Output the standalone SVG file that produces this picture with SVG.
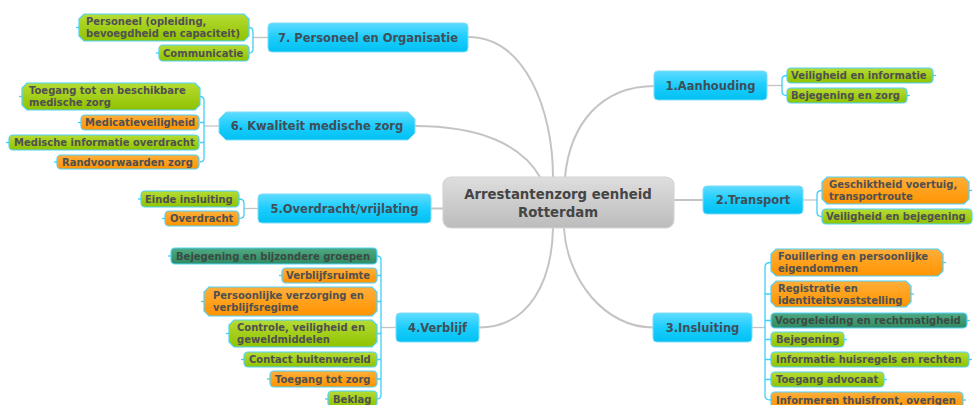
<svg xmlns="http://www.w3.org/2000/svg" width="977" height="405" viewBox="0 0 977 405">
<style>
.bg{fill:#ffffff}
.main{fill:url(#gBlue);stroke:#7fdcf7;stroke-width:1}
.center{fill:url(#gGray);stroke:#d4d4d4;stroke-width:1.2}
.green{fill:url(#gGreen);stroke:#4fd3ff;stroke-width:1.2}
.orange{fill:url(#gOrange);stroke:#4fd3ff;stroke-width:1.2}
.teal{fill:url(#gTeal);stroke:#4fd3ff;stroke-width:1.2}
.t{font-family:"DejaVu Sans",Verdana,sans-serif;font-weight:bold;font-size:10px;fill:#505050}
.tt{font-family:"DejaVu Sans",Verdana,sans-serif;font-weight:bold;font-size:10px;fill:#3b4a42}
.tm{font-family:"DejaVu Sans",Verdana,sans-serif;font-weight:bold;font-size:11.5px;fill:#3f4f58;text-anchor:middle}
.tc{font-family:"DejaVu Sans",Verdana,sans-serif;font-weight:bold;font-size:13.3px;fill:#454545;text-anchor:middle}
.conn{fill:none;stroke:#c4c4c4;stroke-width:2}
.br{fill:none;stroke:#3fcff8;stroke-width:1.3}
.stub{fill:none;stroke:#3fcff8;stroke-width:1.3}
</style>
<defs>
<linearGradient id="gBlue" x1="0" y1="0" x2="0" y2="1"><stop offset="0" stop-color="#5fdcff"/><stop offset="0.5" stop-color="#1ccdfd"/><stop offset="1" stop-color="#00c1f2"/></linearGradient>
<linearGradient id="gGray" x1="0" y1="0" x2="0" y2="1"><stop offset="0" stop-color="#dedede"/><stop offset="1" stop-color="#bcbcbc"/></linearGradient>
<linearGradient id="gGreen" x1="0" y1="0" x2="0" y2="1"><stop offset="0" stop-color="#b6dc34"/><stop offset="1" stop-color="#8fc200"/></linearGradient>
<linearGradient id="gOrange" x1="0" y1="0" x2="0" y2="1"><stop offset="0" stop-color="#ffae3a"/><stop offset="1" stop-color="#ff9400"/></linearGradient>
<linearGradient id="gTeal" x1="0" y1="0" x2="0" y2="1"><stop offset="0" stop-color="#4fa983"/><stop offset="1" stop-color="#2f8a62"/></linearGradient>
</defs>
<rect class="bg" x="0" y="0" width="977" height="405"/>

<g id="connectors">
<!-- main curves -->
<path class="conn" d="M468,37 C525,37 553,110 553,177"/>
<path class="conn" d="M415,126 C480,126 522,145 540,177"/>
<path class="conn" d="M655,86 C600,86 570,125 565,177"/>
<path class="conn" d="M479,327.5 C530,327.5 552,280 553,228"/>
<path class="conn" d="M653,327.5 C605,327.5 567,280 564,228"/>
<path class="conn" d="M431,208.5 H443"/>
<path class="conn" d="M674,200 H703"/>
<!-- parent-to-bracket -->
<path class="conn" style="stroke-width:1.3" d="M253,37.5 H268"/>
<path class="conn" style="stroke-width:1.3" d="M204,126 H219"/>
<path class="conn" style="stroke-width:1.3" d="M244,208.5 H258"/>
<path class="conn" style="stroke-width:1.3" d="M381,327.5 H396"/>
<path class="conn" style="stroke-width:1.3" d="M767,85.5 H782"/>
<path class="conn" style="stroke-width:1.3" d="M803,200 H817"/>
<path class="conn" style="stroke-width:1.3" d="M752,327.5 H765"/>
<!-- brackets left side -->
<path class="br" d="M249,27.5 Q253,27.5 253,31.5 V49 Q253,53 249,53"/>
<path class="br" d="M200,96.5 Q204,96.5 204,100.5 V158 Q204,162 200,162 M204,122.5 H200 M204,142.5 H200"/>
<path class="br" d="M239,199 Q244,199 244,203 V214.5 Q244,218.5 239,218.5"/>
<path class="br" d="M377,256 Q381,256 381,260 V395 Q381,399 377,399 M381,275.5 H377 M381,301.5 H377 M381,333.5 H377 M381,359.5 H377 M381,379 H377"/>
<!-- brackets right side -->
<path class="br" d="M787,75.5 Q782,75.5 782,79.5 V91.5 Q782,95.5 787,95.5"/>
<path class="br" d="M822,190.5 Q817,190.5 817,194.5 V212.5 Q817,216.5 822,216.5"/>
<path class="br" d="M771,262.5 Q765,262.5 765,266.5 V396 Q765,400 771,400 M765,294 H771 M765,320.5 H771 M765,339.5 H771 M765,359.5 H771 M765,379.5 H771"/>
</g>

<g id="center">
<rect class="center" x="443" y="177" width="231" height="51" rx="8"/>
<text class="tc" x="558" y="198.5">Arrestantenzorg eenheid</text>
<text class="tc" x="558" y="216.5">Rotterdam</text>
</g>

<g id="n1">
<rect class="main" x="654" y="71" width="113" height="29" rx="4"/>
<text class="tm" x="710.5" y="89.5">1.Aanhouding</text>
</g>
<g id="n2">
<rect class="main" x="703" y="186" width="100" height="28" rx="4"/>
<text class="tm" x="753" y="204">2.Transport</text>
</g>
<g id="n3">
<rect class="main" x="653" y="313" width="99" height="29" rx="4"/>
<text class="tm" x="702.5" y="331.5">3.Insluiting</text>
</g>
<g id="n4">
<rect class="main" x="396" y="313" width="83" height="29" rx="4"/>
<text class="tm" x="437.5" y="331.5">4.Verblijf</text>
</g>
<g id="n5">
<rect class="main" x="258" y="194" width="173" height="29" rx="4"/>
<text class="tm" x="344.5" y="212.5">5.Overdracht/vrijlating</text>
</g>
<g id="n6">
<path class="main" d="M226,112 H408 L415,119 V133 L408,140 H226 L219,133 V119 Z"/>
<text class="tm" x="317" y="130">6. Kwaliteit medische zorg</text>
</g>
<g id="n7">
<rect class="main" x="268" y="23" width="200" height="29" rx="4"/>
<text class="tm" x="368" y="41.5">7. Personeel en Organisatie</text>
</g>

<!-- group 7 -->
<g id="s7a">
<path class="green" d="M84,14 H244 L249,19 V36 L244,41 H84 L79,36 V19 Z"/>
<path class="stub" d="M79,27.5 h-3"/>
<text class="t" x="86" y="25">Personeel (opleiding,</text>
<text class="t" x="86" y="37">bevoegdheid en capaciteit)</text>
</g>
<g id="s7b">
<rect class="green" x="159" y="45" width="90" height="16" rx="4"/>
<path class="stub" d="M159,53 h-3"/>
<text class="t" x="163" y="56.5">Communicatie</text>
</g>

<!-- group 6 -->
<g id="s6a">
<path class="green" d="M27,83 H195 L200,88 V105 L195,110 H27 L22,105 V88 Z"/>
<path class="stub" d="M22,96.5 h-3"/>
<text class="t" x="29" y="94">Toegang tot en beschikbare</text>
<text class="t" x="29" y="106">medische zorg</text>
</g>
<g id="s6b">
<rect class="orange" x="81" y="115" width="118" height="15" rx="4"/>
<path class="stub" d="M81,122.5 h-3"/>
<text class="t" x="85" y="126">Medicatieveiligheid</text>
</g>
<g id="s6c">
<rect class="green" x="9" y="135" width="190" height="15" rx="4"/>
<path class="stub" d="M9,142.5 h-3"/>
<text class="t" x="14" y="146">Medische informatie overdracht</text>
</g>
<g id="s6d">
<rect class="orange" x="57" y="155" width="142" height="14" rx="4"/>
<path class="stub" d="M57,162 h-3"/>
<text class="t" x="62" y="165.5">Randvoorwaarden zorg</text>
</g>

<!-- group 5 -->
<g id="s5a">
<rect class="green" x="141" y="191" width="98" height="16" rx="4"/>
<path class="stub" d="M141,199 h-3"/>
<text class="t" x="145" y="202.5">Einde insluiting</text>
</g>
<g id="s5b">
<rect class="orange" x="165" y="211" width="74" height="15" rx="4"/>
<path class="stub" d="M165,218.5 h-3"/>
<text class="t" x="170" y="222">Overdracht</text>
</g>

<!-- group 4 -->
<g id="s4a">
<rect class="teal" x="171" y="248" width="206" height="16" rx="4"/>
<path class="stub" d="M171,256 h-3"/>
<text class="tt" x="176" y="259.5">Bejegening en bijzondere groepen</text>
</g>
<g id="s4b">
<rect class="orange" x="282" y="268" width="95" height="15" rx="4"/>
<path class="stub" d="M282,275.5 h-3"/>
<text class="t" x="286" y="279">Verblijfsruimte</text>
</g>
<g id="s4c">
<path class="orange" d="M209,287 H372 L377,292 V311 L372,316 H209 L204,311 V292 Z"/>
<path class="stub" d="M204,301.5 h-3"/>
<text class="t" x="213" y="299">Persoonlijke verzorging en</text>
<text class="t" x="213" y="311">verblijfsregime</text>
</g>
<g id="s4d">
<path class="green" d="M234,320 H372 L377,325 V342 L372,347 H234 L229,342 V325 Z"/>
<path class="stub" d="M229,333.5 h-3"/>
<text class="t" x="237" y="331">Controle, veiligheid en</text>
<text class="t" x="237" y="343">geweldmiddelen</text>
</g>
<g id="s4e">
<rect class="green" x="244" y="352" width="133" height="15" rx="4"/>
<path class="stub" d="M244,359.5 h-3"/>
<text class="t" x="249" y="363">Contact buitenwereld</text>
</g>
<g id="s4f">
<rect class="orange" x="270" y="371" width="107" height="16" rx="4"/>
<path class="stub" d="M270,379 h-3"/>
<text class="t" x="275" y="382.5">Toegang tot zorg</text>
</g>
<g id="s4g">
<rect class="green" x="328" y="391" width="49" height="16" rx="4"/>
<path class="stub" d="M328,399 h-3"/>
<text class="t" x="333" y="402.5">Beklag</text>
</g>

<!-- group 1 -->
<g id="s1a">
<rect class="green" x="787" y="68" width="146" height="15" rx="4"/>
<path class="stub" d="M933,75.5 h3"/>
<text class="t" x="791" y="79">Veiligheid en informatie</text>
</g>
<g id="s1b">
<rect class="green" x="787" y="88" width="120" height="15" rx="4"/>
<path class="stub" d="M907,95.5 h3"/>
<text class="t" x="791" y="99">Bejegening en zorg</text>
</g>

<!-- group 2 -->
<g id="s2a">
<path class="orange" d="M827,177 H964 L969,182 V199 L964,204 H827 L822,199 V182 Z"/>
<path class="stub" d="M969,190.5 h3"/>
<text class="t" x="829" y="188">Geschiktheid voertuig,</text>
<text class="t" x="829" y="200">transportroute</text>
</g>
<g id="s2b">
<rect class="green" x="822" y="209" width="150" height="15" rx="4"/>
<text class="t" x="826" y="220">Veiligheid en bejegening</text>
</g>

<!-- group 3 -->
<g id="s3a">
<path class="orange" d="M776,249 H938 L943,254 V271 L938,276 H776 L771,271 V254 Z"/>
<path class="stub" d="M943,262.5 h3"/>
<text class="t" x="778" y="260">Fouillering en persoonlijke</text>
<text class="t" x="778" y="272">eigendommen</text>
</g>
<g id="s3b">
<path class="orange" d="M776,281 H906 L911,286 V302 L906,307 H776 L771,302 V286 Z"/>
<path class="stub" d="M911,294 h3"/>
<text class="t" x="778" y="292">Registratie en</text>
<text class="t" x="778" y="304">identiteitsvaststelling</text>
</g>
<g id="s3c">
<rect class="teal" x="771" y="313" width="196" height="15" rx="4"/>
<path class="stub" d="M967,320.5 h3"/>
<text class="tt" x="775" y="324">Voorgeleiding en rechtmatigheid</text>
</g>
<g id="s3d">
<rect class="green" x="771" y="332" width="73" height="15" rx="4"/>
<path class="stub" d="M844,339.5 h3"/>
<text class="t" x="776" y="343">Bejegening</text>
</g>
<g id="s3e">
<rect class="green" x="771" y="352" width="198" height="15" rx="4"/>
<path class="stub" d="M969,359.5 h3"/>
<text class="t" x="776" y="363">Informatie huisregels en rechten</text>
</g>
<g id="s3f">
<rect class="green" x="771" y="372" width="113" height="15" rx="4"/>
<path class="stub" d="M884,379.5 h3"/>
<text class="t" x="776" y="383">Toegang advocaat</text>
</g>
<g id="s3g">
<rect class="orange" x="771" y="392" width="192" height="16" rx="4"/>
<path class="stub" d="M963,400 h3"/>
<text class="t" x="776" y="403.5">Informeren thuisfront, overigen</text>
</g>
</svg>
